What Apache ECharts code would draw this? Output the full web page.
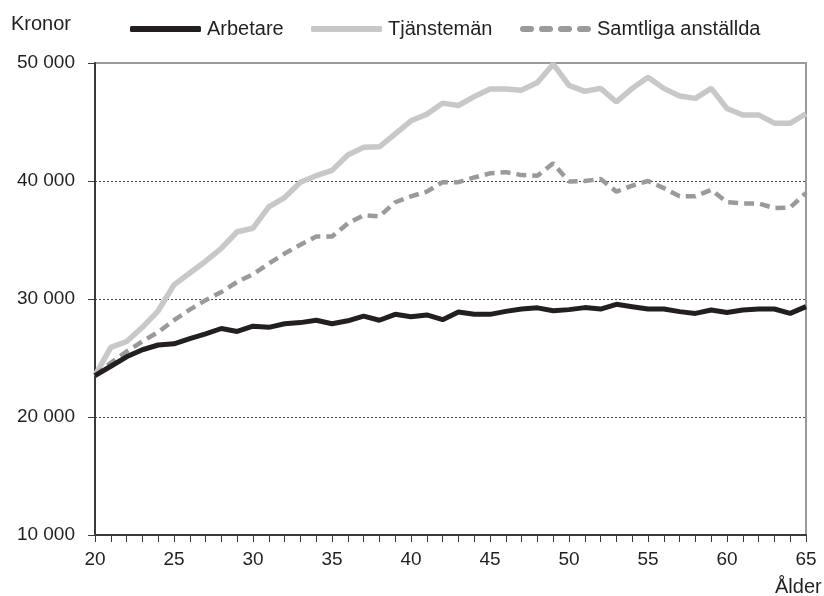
<!DOCTYPE html>
<html>
<head>
<meta charset="utf-8">
<script src="https://cdn.jsdelivr.net/npm/echarts@6/dist/echarts.min.js"></script>
<style>html,body{margin:0;padding:0;background:#fff;}#c{width:824px;height:596px;}</style>
</head>
<body>
<div id="c"></div>
<script>
const ages = [];
for (let a = 20; a <= 65; a++) ages.push(String(a));
const arbetare = [23500,24300,25100,25700,26100,26200,26650,27050,27500,27250,27700,27600,27900,28000,28200,27900,28150,28550,28200,28700,28500,28650,28250,28900,28700,28700,28950,29150,29250,29000,29100,29270,29150,29550,29350,29150,29150,28930,28780,29070,28860,29070,29150,29150,28780,29350];
const tjanstemann = [23500,25900,26400,27600,29000,31200,32200,33200,34300,35700,36000,37800,38600,39900,40450,40900,42200,42850,42900,44000,45100,45650,46600,46400,47150,47800,47800,47700,48350,49900,48100,47600,47850,46700,47850,48800,47850,47200,47000,47850,46150,45600,45600,44900,44900,45700];
const samtliga = [23500,24600,25550,26400,27200,28200,29100,29900,30600,31450,32100,33000,33850,34600,35300,35300,36400,37100,37000,38200,38700,39100,39900,39900,40300,40650,40750,40500,40450,41500,39950,40000,40170,39100,39600,40000,39400,38700,38700,39250,38200,38100,38100,37700,37750,39000];
const yTicks = [10000,20000,30000,40000,50000];
const seriesNames = ['Arbetare','Tjänstemän','Samtliga anställda'];

const chart = echarts.init(document.getElementById('c'), null, {renderer:'canvas'});
const font = 'Liberation Sans, Arial, sans-serif';
const txt = '#231f20';
const legendBase = {top: 19, padding: 0, itemWidth: 71, itemHeight: 6, itemGap: 0,
  textStyle: {fontSize: 20, color: txt, fontFamily: font, padding: [0,0,0,1]}};
const dashIcon = 'path://M3,0h8a3,3 0 0 1 0,6h-8a3,3 0 0 1 0,-6z M22,0h8a3,3 0 0 1 0,6h-8a3,3 0 0 1 0,-6z M41,0h8a3,3 0 0 1 0,6h-8a3,3 0 0 1 0,-6z M60,0h8a3,3 0 0 1 0,6h-8a3,3 0 0 1 0,-6z';
chart.setOption({
  animation: false,
  backgroundColor: '#fff',
  textStyle: {fontFamily: font},
  grid: {left: 95, right: 18, top: 63, bottom: 61, show: true, borderColor: '#9a9a9a', borderWidth: 2, backgroundColor: 'transparent'},
  legend: [
    Object.assign({}, legendBase, {left: 130, data: [{name: seriesNames[0], icon: 'roundRect', itemStyle: {color: '#231f20'}}]}),
    Object.assign({}, legendBase, {left: 311, data: [{name: seriesNames[1], icon: 'roundRect', itemStyle: {color: '#c8c8c8'}}]}),
    Object.assign({}, legendBase, {left: 520, data: [{name: seriesNames[2], icon: dashIcon, itemStyle: {color: '#9a9a9a'}}]})
  ],
  graphic: [
    {type:'text', left: 11, top: 14, style:{text:'Kronor', fontSize:20, fill: txt, fontFamily: font}},
    {type:'text', left: 775, top: 577, style:{text:'Ålder', fontSize:20, fill: txt, fontFamily: font}}
  ],
  xAxis: {
    type: 'category', data: ages, boundaryGap: false,
    axisLine: {lineStyle: {color: '#3a3a3a', width: 2}},
    axisTick: {show: true, interval: 0, length: 7, lineStyle: {color: '#3a3a3a', width: 1}},
    axisLabel: {interval: 4, fontSize: 19, color: txt, margin: 15, fontFamily: font},
    splitLine: {show: false}
  },
  yAxis: {
    type: 'value', min: 10000, max: 50000, interval: 10000,
    axisLine: {show: true, lineStyle: {color: '#3a3a3a', width: 2}},
    axisTick: {show: true, length: 7, lineStyle: {color: '#3a3a3a'}},
    axisLabel: {fontSize: 19, color: txt, margin: 20, fontFamily: font,
      formatter: v => yTicks.includes(v) ? String(v).replace(/\B(?=(\d{3})+(?!\d))/g, ' ') : ''},
    splitLine: {show: true, showMinLine: false, showMaxLine: false, lineStyle: {color: '#444', type: [2,2], width: 1}}
  },
  series: [
    {name: seriesNames[0], type: 'line', data: arbetare, symbol: 'none', z: 4,
      lineStyle: {color: '#231f20', width: 5}, itemStyle: {color: '#231f20'}},
    {name: seriesNames[1], type: 'line', data: tjanstemann, symbol: 'none', z: 2,
      lineStyle: {color: '#c8c8c8', width: 5.5}, itemStyle: {color: '#c8c8c8'}},
    {name: seriesNames[2], type: 'line', data: samtliga, symbol: 'none', z: 3,
      lineStyle: {color: '#9a9a9a', width: 4.5, type: [10,6]}, itemStyle: {color: '#9a9a9a'}}
  ]
});
</script>
</body>
</html>
